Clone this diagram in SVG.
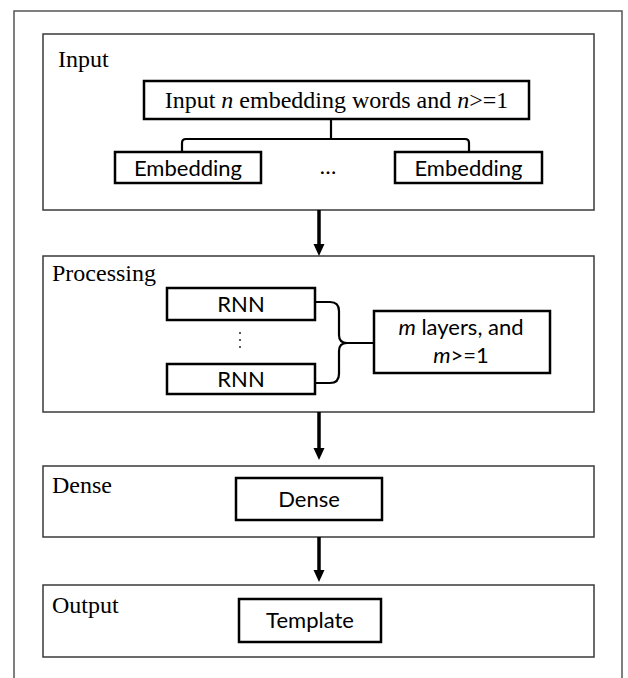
<svg xmlns="http://www.w3.org/2000/svg" width="628" height="678" viewBox="0 0 628 678">
<style>
.frame{fill:#fff;stroke:#555;stroke-width:1.5}
.sec{fill:#fff;stroke:#3a3a3a;stroke-width:1.5}
.box{fill:#fff;stroke:#000;stroke-width:2.5}
.lbl{font-family:"Liberation Serif","Times New Roman",serif;font-size:24px;fill:#000}
.txt{font-family:Lato,"Liberation Sans",sans-serif;font-size:22px;fill:#000;text-anchor:middle}
.conn{fill:none;stroke:#000;stroke-width:2.2}
.arr{fill:none;stroke:#000;stroke-width:3.5}
.head{fill:#000}
</style>
<rect width="628" height="678" fill="#fff"/>
<rect class="frame" x="14" y="11" width="608" height="700"/>

<g id="input">
<rect class="sec" x="43" y="34" width="551" height="176"/>
<text class="lbl" x="58" y="67">Input</text>
</g>
<g id="input-title">
<rect class="box" x="144" y="81" width="385" height="38"/>
<text class="lbl" x="336.5" y="108" text-anchor="middle">Input <tspan font-style="italic">n</tspan> embedding words and <tspan font-style="italic">n</tspan>&gt;=1</text>
</g>
<g id="embedding-1">
<rect class="box" x="115" y="152" width="146" height="31"/>
<text class="txt" x="188" y="176">Embedding</text>
</g>
<g id="ellipsis-h">
<text class="txt" x="328" y="174">…</text>
</g>
<g id="embedding-n">
<rect class="box" x="395" y="152" width="147" height="31"/>
<text class="txt" x="468.5" y="176">Embedding</text>
</g>

<g id="processing">
<rect class="sec" x="43" y="256" width="551" height="156"/>
<text class="lbl" x="52" y="281">Processing</text>
</g>
<g id="rnn-1">
<rect class="box" x="167" y="288" width="148" height="32"/>
<text class="txt" x="241" y="312">RNN</text>
</g>
<g id="ellipsis-v">
<circle cx="240" cy="333" r="1.1" fill="#333"/>
<circle cx="240" cy="340" r="1.1" fill="#333"/>
<circle cx="240" cy="347" r="1.1" fill="#333"/>
</g>
<g id="rnn-m">
<rect class="box" x="167" y="364" width="148" height="30"/>
<text class="txt" x="241" y="387">RNN</text>
</g>
<g id="layers">
<rect class="box" x="374" y="311" width="176" height="62"/>
<text class="txt" x="461" y="335"><tspan font-style="italic">m</tspan> layers, and</text>
<text class="txt" x="461" y="363"><tspan font-style="italic">m</tspan>&gt;=1</text>
</g>

<g id="dense">
<rect class="sec" x="43" y="466" width="551" height="71"/>
<text class="lbl" x="52" y="493">Dense</text>
</g>
<g id="dense-box">
<rect class="box" x="236" y="478" width="146" height="42"/>
<text class="txt" x="309" y="507">Dense</text>
</g>

<g id="output">
<rect class="sec" x="43" y="585" width="551" height="72"/>
<text class="lbl" x="52" y="613">Output</text>
</g>
<g id="template">
<rect class="box" x="239" y="599" width="142" height="43"/>
<text class="txt" x="310" y="628">Template</text>
</g>

<g id="connectors">
<path class="conn" d="M331,119 V139 M182,151 V143 Q182,139 186,139 H465 Q469,139 469,143 V151"/>
<path class="conn" d="M315,302 H330 Q339,302 339,311 V335 Q339,343 347,343 H374 M315,383 H330 Q339,383 339,374 V351 Q339,343 347,343"/>
<path class="arr" d="M319,210 V245"/>
<polygon class="head" points="313.5,244 324.5,244 319,256"/>
<path class="arr" d="M319,412 V449"/>
<polygon class="head" points="313.5,448 324.5,448 319,460"/>
<path class="arr" d="M319,537 V571"/>
<polygon class="head" points="313.5,570 324.5,570 319,582"/>
</g>
</svg>
